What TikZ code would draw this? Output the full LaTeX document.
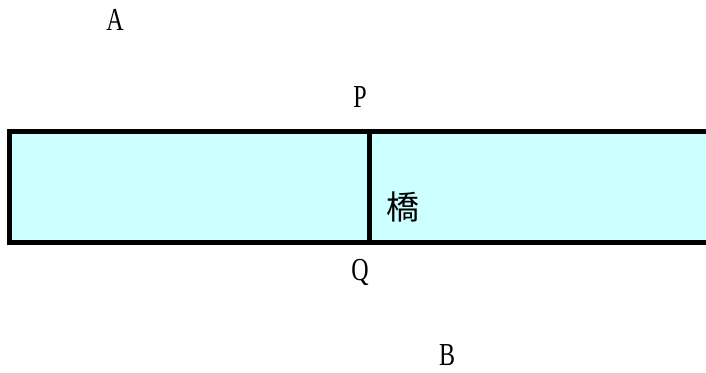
\documentclass[tikz,border=0pt]{standalone}
\usepackage{fontspec}
\usepackage{tikz}
\setmainfont[FakeStretch=0.75]{Liberation Serif}
\newfontfamily\cjk{Noto Sans CJK JP}
\definecolor{river}{HTML}{CCFFFF}

\begin{document}
\begin{tikzpicture}[x=1pt,y=-1pt,font=\fontsize{32}{36}\selectfont]
        \useasboundingbox (0,0) rectangle (706,372);
        \coordinate (TL) at (9.5,131.5);
        \coordinate (BL) at (9.5,242.5);
        \coordinate (TR) at (706,131.5);
        \coordinate (BR) at (706,242.5);
        \coordinate (P0) at (369.5,131.5);
        \coordinate (Q0) at (369.5,242.5);
        \fill[river] (TL) rectangle (BR);
        \draw[line width=5pt,line join=miter] (TR) -- (TL) -- (BL) -- (BR);
        \draw[line width=5pt] (P0) -- (Q0);
        \node (A) at (115,20) {A};
        \node (P) at (360,97) {P};
        \node (Q) at (360,272) {Q};
        \node (B) at (447,355) {B};
        \node[font=\cjk\fontsize{33}{38}\selectfont] (bridge) at (403,207) {橋};
    \end{tikzpicture}
\end{document}
